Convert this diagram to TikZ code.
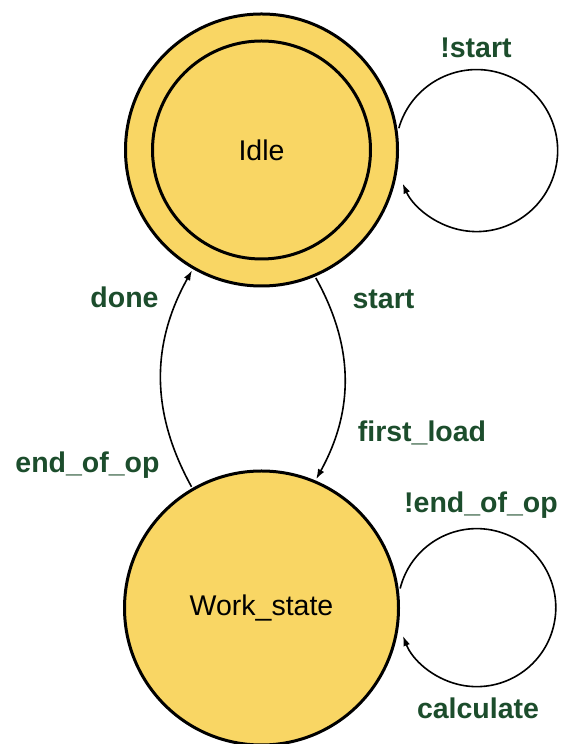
\documentclass[tikz,border=0pt]{standalone}
\usepackage{fontspec}
\setmainfont{Liberation Sans}
\usetikzlibrary{arrows.meta}
\definecolor{statefill}{HTML}{F9D664}
\definecolor{lblgreen}{HTML}{1C4D2C}
\begin{document}
\begin{tikzpicture}[x=1pt,y=1pt,
  state/.style={circle, draw, line width=3pt, fill=statefill, inner sep=0pt, outer sep=3pt, font=\fontsize{28.5}{33}\selectfont},
  ring/.style={circle, draw, line width=3pt, inner sep=0pt, font=\fontsize{28.5}{33}\selectfont},
  conn/.style={line width=1.6pt, -{Latex[length=10pt,width=7pt]}},
  lbl/.style={anchor=base, text=lblgreen, inner sep=0pt, font=\fontsize{28.5}{33}\selectfont\bfseries}]
\useasboundingbox (0,0) rectangle (560,744);
\node[state, minimum size=272pt] (idle) at (261.5,594) {};
\node[ring, minimum size=218pt] (idlein) at (idle.center) {Idle};
\node[state, minimum size=274pt] (work) at (261.5,136) {Work\_state};
\draw[conn] (idle.9) arc[start angle=164, end angle=-156, radius=81pt];
\draw[conn] (work.8) arc[start angle=166, end angle=-159, radius=79pt];
\draw[conn] (work.120) to[bend left=29] (idle.240);
\draw[conn] (idle.-67) to[bend left=29] (work.67);
\node[lbl] (lnstart) at (476,686) {!start};
\node[lbl] (ldone) at (124.5,436) {done};
\node[lbl] (lstart) at (383.5,435) {start};
\node[lbl] (lfirst) at (422,302) {first\_load};
\node[lbl] (lend) at (87.5,271) {end\_of\_op};
\node[lbl] (lnend) at (481,231) {!end\_of\_op};
\node[lbl] (lcalc) at (478,25) {calculate};
\end{tikzpicture}
\end{document}
